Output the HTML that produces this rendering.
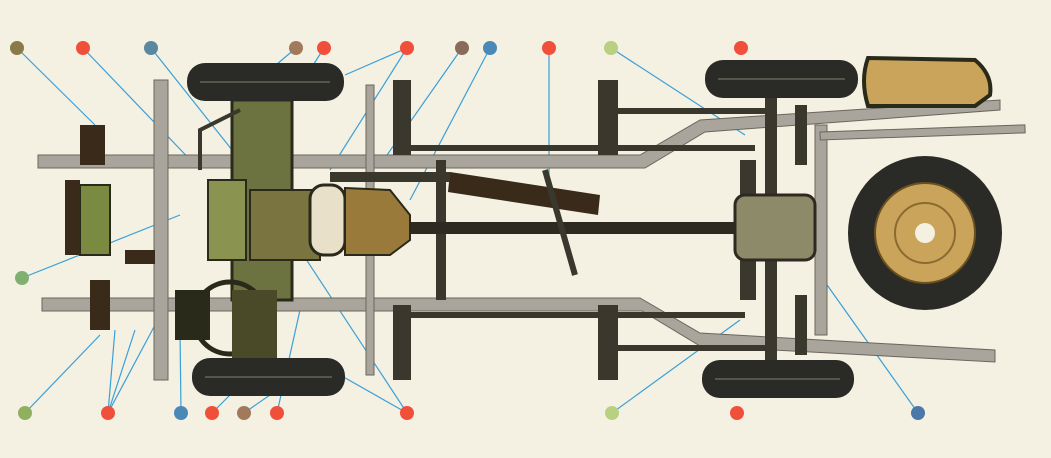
<!DOCTYPE html>
<html><head><meta charset="utf-8"><style>
html,body{margin:0;padding:0;background:#f4f0e2;}
svg{display:block;}
</style></head><body>
<svg width="1051" height="458" viewBox="0 0 1051 458" xmlns="http://www.w3.org/2000/svg">
<rect width="1051" height="458" fill="#f4f0e2"/>
<!-- leader lines -->
<g stroke="#3aa0d8" stroke-width="1.2" fill="none">
<line x1="17" y1="48" x2="95" y2="125"/>
<line x1="83" y1="48" x2="200" y2="170"/>
<line x1="151" y1="48" x2="240" y2="160"/>
<line x1="296" y1="48" x2="270" y2="70"/>
<line x1="324" y1="48" x2="310" y2="70"/>
<line x1="407" y1="48" x2="345" y2="75"/>
<line x1="407" y1="48" x2="330" y2="170"/>
<line x1="462" y1="48" x2="380" y2="165"/>
<line x1="490" y1="48" x2="410" y2="200"/>
<line x1="549" y1="48" x2="549" y2="175"/>
<line x1="611" y1="48" x2="745" y2="135"/>
<line x1="22" y1="278" x2="180" y2="215"/>
<line x1="25" y1="413" x2="100" y2="335"/>
<line x1="108" y1="413" x2="115" y2="330"/>
<line x1="108" y1="413" x2="135" y2="330"/>
<line x1="108" y1="413" x2="155" y2="325"/>
<line x1="181" y1="413" x2="180" y2="330"/>
<line x1="212" y1="413" x2="240" y2="385"/>
<line x1="244" y1="413" x2="270" y2="395"/>
<line x1="277" y1="413" x2="300" y2="310"/>
<line x1="407" y1="413" x2="340" y2="375"/>
<line x1="407" y1="413" x2="300" y2="250"/>
<line x1="612" y1="413" x2="740" y2="320"/>
<line x1="918" y1="413" x2="820" y2="275"/>
</g>
<!-- frame rails -->
<g fill="#a9a59c" stroke="#6b665c" stroke-width="1">
<polygon points="38,155 640,155 700,120 1000,100 1000,110 705,132 645,168 38,168"/>
<polygon points="42,298 640,298 700,333 995,350 995,362 700,346 642,311 42,311"/>
<rect x="154" y="80" width="14" height="300"/>
<rect x="366" y="85" width="8" height="290"/>
<rect x="815" y="125" width="12" height="210"/>
<rect x="820" y="132" width="205" height="8" transform="rotate(-2 820 132)"/>
</g>
<!-- dark crossmembers -->
<g fill="#3a382c">
<rect x="393" y="80" width="18" height="75"/>
<rect x="393" y="305" width="18" height="75"/>
<rect x="598" y="80" width="20" height="75"/>
<rect x="598" y="305" width="20" height="75"/>
<rect x="405" y="145" width="350" height="6"/>
<rect x="405" y="312" width="340" height="6"/>
<rect x="615" y="108" width="150" height="6"/>
<rect x="615" y="345" width="150" height="6"/>
<rect x="765" y="95" width="12" height="270"/>
<rect x="740" y="160" width="16" height="140"/>
<rect x="795" y="105" width="12" height="60"/>
<rect x="795" y="295" width="12" height="60"/>
<rect x="436" y="160" width="10" height="140"/>
</g>
<!-- driveshaft -->
<rect x="380" y="222" width="380" height="12" fill="#2e2a22"/>
<rect x="735" y="195" width="80" height="65" rx="10" fill="#8d8a6a" stroke="#2e2a22" stroke-width="3"/>
<!-- exhaust -->
<polygon points="450,172 600,195 598,215 448,192" fill="#3a2a1a"/>
<rect x="330" y="172" width="120" height="10" fill="#3a382c"/>
<line x1="545" y1="170" x2="575" y2="275" stroke="#3a382c" stroke-width="6"/>
<!-- engine -->
<rect x="232" y="100" width="60" height="200" fill="#6d7340" stroke="#2a2a1a" stroke-width="3"/>
<rect x="208" y="180" width="38" height="80" fill="#8a9350" stroke="#2a2a1a" stroke-width="2"/>
<rect x="250" y="190" width="70" height="70" fill="#7a7440" stroke="#2a2a1a" stroke-width="2"/>
<rect x="310" y="185" width="35" height="70" rx="14" fill="#e8e0c8" stroke="#2a2a1a" stroke-width="3"/>
<polygon points="345,188 390,190 410,215 410,240 390,255 345,255" fill="#9a7a3a" stroke="#2a2a1a" stroke-width="2"/>
<path d="M200,170 L200,130 L240,110" stroke="#3a382c" stroke-width="4" fill="none"/>
<!-- left front area -->
<rect x="80" y="185" width="30" height="70" fill="#7a8a40" stroke="#2a2a1a" stroke-width="2"/>
<rect x="65" y="180" width="15" height="75" fill="#3a2a1a"/>
<rect x="80" y="125" width="25" height="40" fill="#3a2a1a"/>
<rect x="90" y="280" width="20" height="50" fill="#3a2a1a"/>
<rect x="125" y="250" width="30" height="14" fill="#3a2a1a"/>
<!-- steering wheel -->
<circle cx="230" cy="318" r="36" fill="none" stroke="#2a2a1a" stroke-width="5"/>
<rect x="175" y="290" width="35" height="50" fill="#2a2a1a"/>
<rect x="232" y="290" width="45" height="70" fill="#4a4a28"/>
<!-- tires -->
<g fill="#2a2a26">
<rect x="187" y="63" width="157" height="38" rx="18"/>
<rect x="192" y="358" width="153" height="38" rx="18"/>
<rect x="705" y="60" width="153" height="38" rx="18"/>
<rect x="702" y="360" width="152" height="38" rx="18"/>
</g>
<g stroke="#55554c" stroke-width="2">
<line x1="200" y1="82" x2="330" y2="82"/><line x1="205" y1="377" x2="332" y2="377"/>
<line x1="718" y1="79" x2="845" y2="79"/><line x1="715" y1="379" x2="840" y2="379"/>
</g>
<!-- spare wheel -->
<circle cx="925" cy="233" r="77" fill="#2a2a26"/>
<circle cx="925" cy="233" r="50" fill="#c9a45a" stroke="#6a5020" stroke-width="2"/>
<circle cx="925" cy="233" r="30" fill="none" stroke="#8a6a30" stroke-width="2"/>
<circle cx="925" cy="233" r="10" fill="#f4f0e2"/>
<!-- fuel tank -->
<path d="M868,58 L975,60 Q993,75 990,95 L975,106 L868,106 Q860,80 868,58Z" fill="#c9a45a" stroke="#2a2a1a" stroke-width="4"/>
<!-- dots -->
<g>
<circle cx="17" cy="48" r="7" fill="#8a7a4a"/>
<circle cx="83" cy="48" r="7" fill="#f0503a"/>
<circle cx="151" cy="48" r="7" fill="#5a88a0"/>
<circle cx="296" cy="48" r="7" fill="#a07a5a"/>
<circle cx="324" cy="48" r="7" fill="#f0503a"/>
<circle cx="407" cy="48" r="7" fill="#f0503a"/>
<circle cx="462" cy="48" r="7" fill="#8a6a5a"/>
<circle cx="490" cy="48" r="7" fill="#4a88b8"/>
<circle cx="549" cy="48" r="7" fill="#f0503a"/>
<circle cx="611" cy="48" r="7" fill="#b8d080"/>
<circle cx="741" cy="48" r="7" fill="#f0503a"/>
<circle cx="22" cy="278" r="7" fill="#80b070"/>
<circle cx="25" cy="413" r="7" fill="#90b060"/>
<circle cx="108" cy="413" r="7" fill="#f0503a"/>
<circle cx="181" cy="413" r="7" fill="#4a88b8"/>
<circle cx="212" cy="413" r="7" fill="#f0503a"/>
<circle cx="244" cy="413" r="7" fill="#a07a5a"/>
<circle cx="277" cy="413" r="7" fill="#f0503a"/>
<circle cx="407" cy="413" r="7" fill="#f0503a"/>
<circle cx="612" cy="413" r="7" fill="#b8d080"/>
<circle cx="737" cy="413" r="7" fill="#f0503a"/>
<circle cx="918" cy="413" r="7" fill="#4a78a8"/>
</g>
</svg>
</body></html>
